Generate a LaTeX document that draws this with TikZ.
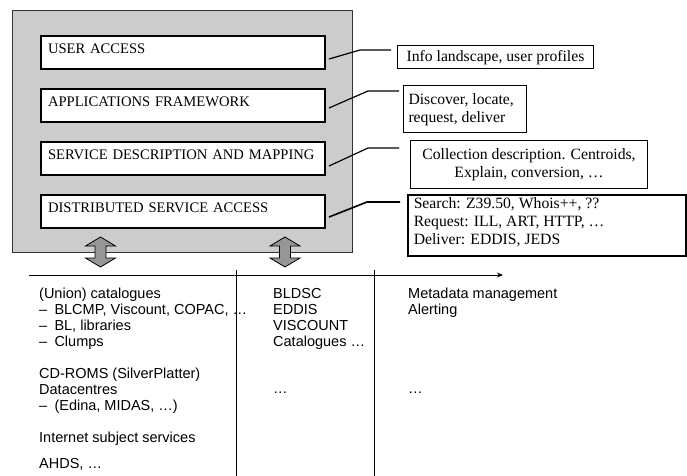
\documentclass[tikz,border=0pt]{standalone}
\usepackage{fontspec}
\setmainfont{Liberation Serif}
\newfontfamily\arialfont{Liberation Sans}
\usetikzlibrary{arrows.meta}
\definecolor{panelgray}{RGB}{204,204,204}
\definecolor{arrowgray}{RGB}{150,150,150}
\begin{document}
\begin{tikzpicture}[x=1pt,y=-1pt,
  layerbox/.style={draw, line width=2pt, fill=white, anchor=north west,
    inner xsep=7pt, inner ysep=0pt, text width=270pt, align=left,
    text height=17pt, text depth=16pt, font=\fontsize{14.6}{16}\selectfont},
  notebox/.style={draw, line width=1pt, fill=white, anchor=north west,
    inner xsep=5pt, inner ysep=0pt, font=\fontsize{15.7}{18}\selectfont},
  listtext/.style={anchor=base west, inner sep=0pt,
    font=\arialfont\fontsize{14.5}{16}\selectfont},
  callout/.style={line width=1.2pt},
  dblarrow/.style={draw=black, line width=0.8pt, fill=arrowgray}
]
\useasboundingbox (0,0) rectangle (687,475);

% grey panel
\draw[fill=panelgray, draw=black!80, line width=1pt] (12.5,10.5) rectangle (352,252);

% layer boxes
\node[layerbox] (ua) at (40,35)  {USER ACCESS};
\node[layerbox] (af) at (40,88)  {APPLICATIONS FRAMEWORK};
\node[layerbox] (sd) at (40,141) {SERVICE DESCRIPTION AND MAPPING};
\node[layerbox] (ds) at (40,194) {DISTRIBUTED SERVICE ACCESS};

% callout boxes
\node[notebox, inner xsep=0pt, text height=16pt, text depth=7pt] (n1) at (397,45)
  {\parbox[t]{196pt}{\centering Info landscape, user profiles}};
\node[notebox, text height=19pt, text depth=28pt] (n2) at (403,85)
  {\parbox[t]{113pt}{\raggedright Discover, locate,\\request, deliver}};
\node[notebox, text height=19pt, text depth=29pt] (n3) at (410,140)
  {\parbox[t]{227pt}{\centering Collection description. Centroids,\\Explain, conversion, …}};
\node[notebox, line width=1.5pt, inner xsep=6pt, text height=14pt, text depth=47pt] (n4) at (407,194)
  {\parbox[t]{266pt}{\raggedright Search: Z39.50, Whois++, ??\\Request: ILL, ART, HTTP, …\\Deliver: EDDIS, JEDS}};

% callout connectors
\coordinate (c1a) at (329,59);  \coordinate (c1b) at (360,50);  \coordinate (c1c) at (391,50);
\coordinate (c2a) at (329,108); \coordinate (c2b) at (368,91);  \coordinate (c2c) at (399,91);
\coordinate (c3a) at (329,166); \coordinate (c3b) at (368,148); \coordinate (c3c) at (399,148);
\coordinate (c4a) at (329,217); \coordinate (c4b) at (367,202); \coordinate (c4c) at (400,202);
\draw[callout] (c1a) -- (c1b) -- (c1c);
\draw[callout] (c2a) -- (c2b) -- (c2c);
\draw[callout] (c3a) -- (c3b) -- (c3c);
\draw[callout, line width=1.6pt] (c4a) -- (c4b) -- (c4c);

% double arrows
\foreach \cx in {100.5,285}{
  \draw[dblarrow] (\cx,237) -- (\cx+15,246) -- (\cx+5.5,246) -- (\cx+5.5,258)
    -- (\cx+15,258) -- (\cx,267) -- (\cx-15,258) -- (\cx-5.5,258)
    -- (\cx-5.5,246) -- (\cx-15,246) -- cycle;
}

% axis and column separators
\coordinate (axL) at (29,275);  \coordinate (axR) at (503,275);
\coordinate (v1t) at (236,270); \coordinate (v1b) at (236,476);
\coordinate (v2t) at (374,270); \coordinate (v2b) at (374,476);
\draw[line width=0.9pt, -{Stealth[length=6pt,width=5pt]}] (axL) -- (axR);
\draw[line width=0.9pt] (v1t) -- (v1b);
\draw[line width=0.9pt] (v2t) -- (v2b);

% columns of text
\node[listtext] (col1) at (39,298) {\parbox[t]{320pt}{\raggedright
  (Union) catalogues\\
  –\enspace BLCMP, Viscount, COPAC, …\\
  –\enspace BL, libraries\\
  –\enspace Clumps\\[16pt]
  CD-ROMS (SilverPlatter)\\
  Datacentres\\
  –\enspace (Edina, MIDAS, …)\\[16pt]
  Internet subject services\\[10pt]
  AHDS, …}};
\node[listtext] (col2) at (273,298) {\parbox[t]{120pt}{\raggedright
  BLDSC\\
  EDDIS\\
  VISCOUNT\\
  Catalogues …\\[31pt]
  …}};
\node[listtext] (col3) at (408,298) {\parbox[t]{250pt}{\raggedright
  Metadata management\\
  Alerting\\[63pt]
  …}};
\end{tikzpicture}
\end{document}
